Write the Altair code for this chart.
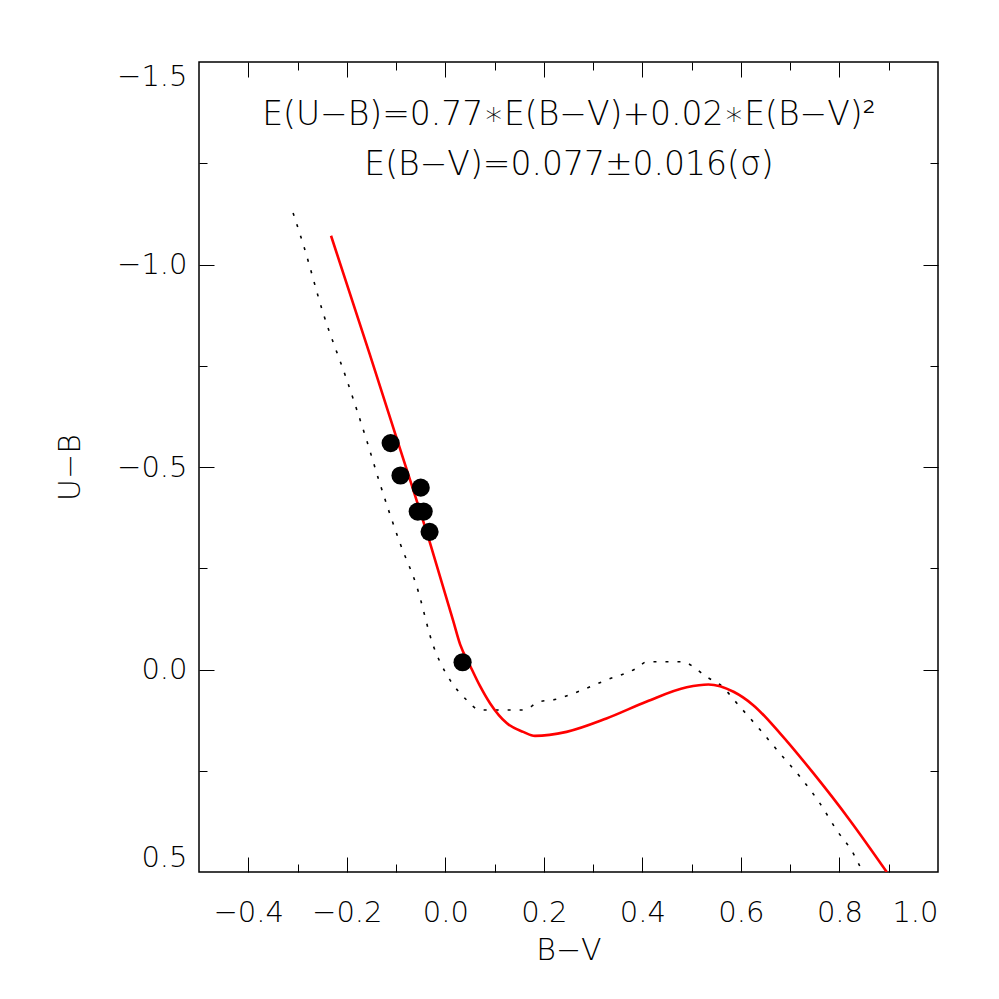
import altair as alt
import pandas as pd

# ---- data ----
star_bv = [-0.111, -0.091, -0.050, -0.056, -0.044, -0.032, 0.035]
star_ub = [-0.559, -0.479, -0.449, -0.390, -0.390, -0.340, -0.018]

red_bv = [-0.232, -0.153, -0.102, -0.031, 0.016, 0.030, 0.050, 0.070, 0.091, 0.125, 0.158,
          0.182, 0.246, 0.327, 0.409, 0.490, 0.534, 0.585, 0.625, 0.679, 0.747, 0.821, 0.896]
red_ub = [-1.071, -0.777, -0.583, -0.312, -0.120, -0.062, -0.010, 0.040, 0.084, 0.133, 0.154,
          0.164, 0.154, 0.121, 0.079, 0.044, 0.037, 0.055, 0.088, 0.157, 0.256, 0.372, 0.500]

dot_bv = [-0.309, -0.288, -0.248, -0.200, -0.160, -0.133, -0.092, -0.058, -0.024, -0.011,
          0.009, 0.043, 0.070, 0.158, 0.192, 0.219, 0.260, 0.327, 0.388, 0.409, 0.483,
          0.503, 0.530, 0.557, 0.598, 0.639, 0.679, 0.720, 0.760, 0.794, 0.828, 0.845]
dot_ub = [-1.127, -1.048, -0.880, -0.715, -0.567, -0.460, -0.312, -0.205, -0.057, -0.019,
          0.025, 0.075, 0.100, 0.100, 0.079, 0.075, 0.059, 0.026, -0.003, -0.019, -0.019,
          -0.007, 0.018, 0.037, 0.092, 0.149, 0.207, 0.265, 0.330, 0.396, 0.454, 0.495]

x_labels = [-0.4, -0.2, 0.0, 0.2, 0.4, 0.6, 0.8, 1.0]
x_major = [-0.4, -0.2, 0.0, 0.2, 0.4, 0.6, 0.8]
x_minor = [-0.3, -0.1, 0.1, 0.3, 0.5, 0.7, 0.9]
y_labels = [-1.5, -1.0, -0.5, 0.0, 0.5]
y_major = [-1.0, -0.5, 0.0]
y_minor = [-1.25, -0.75, -0.25, 0.25]

line1 = "E(U\u2212B)=0.77\u2217E(B\u2212V)+0.02\u2217E(B\u2212V)\u00b2"
line2 = "E(B\u2212V)=0.077\u00b10.016(\u03c3)"

FONT = "DejaVu Sans"
WEIGHT = 200
W, H = 739, 810
MAJ, MIN = 15, 8

stars = pd.DataFrame({"bv": star_bv, "ub": star_ub})
red = pd.DataFrame({"bv": red_bv, "ub": red_ub, "i": range(len(red_bv))})
dot = pd.DataFrame({"bv": dot_bv, "ub": dot_ub, "i": range(len(dot_bv))})

xs = alt.Scale(domain=[-0.5, 1.0], nice=False, zero=False)
ys = alt.Scale(domain=[-1.5, 0.5], nice=False, zero=False, reverse=True)


def axis_layer(xaxis, yaxis):
    return alt.Chart(stars).mark_point(opacity=0).encode(
        x=alt.X("bv:Q", scale=xs, axis=xaxis),
        y=alt.Y("ub:Q", scale=ys, axis=yaxis),
    )


def tick_axis(orient, values, size):
    return alt.Axis(orient=orient, values=values, labels=False, domain=False,
                    ticks=True, tickSize=size, offset=-size, title=None, grid=False,
                    tickColor="black", tickWidth=1)


labels_layer = axis_layer(
    alt.Axis(orient="bottom", values=x_labels, format=".1f", ticks=False, domain=False,
             grid=False, labelPadding=26, labelFontSize=29, labelFont=FONT,
             labelFontWeight=WEIGHT,
             labelColor="black", title="B\u2212V", titleFontSize=30, titleFont=FONT,
             titleFontWeight=WEIGHT, titleColor="black", titleY=78,
             titleBaseline="middle", titleAlign="center"),
    alt.Axis(orient="left", values=y_labels, format=".1f", ticks=False, domain=False,
             grid=False, labelPadding=12, labelFontSize=29, labelFont=FONT,
             labelFontWeight=WEIGHT,
             labelColor="black", labelFlush=True, title="U\u2212B", titleFontSize=30,
             titleFont=FONT, titleFontWeight=WEIGHT, titleColor="black",
             titleX=-129, titleY=H / 2, titleBaseline="middle", titleAlign="center",
             titleAngle=270),
)

layers = [
    labels_layer,
    axis_layer(tick_axis("bottom", x_major, MAJ), tick_axis("left", y_major, MAJ)),
    axis_layer(tick_axis("bottom", x_minor, MIN), tick_axis("left", y_minor, MIN)),
    axis_layer(tick_axis("top", x_major, MAJ), tick_axis("right", y_major, MAJ)),
    axis_layer(tick_axis("top", x_minor, MIN), tick_axis("right", y_minor, MIN)),
]

dotted = alt.Chart(dot).mark_line(color="black", strokeWidth=1.6, strokeDash=[3, 9],
                                   interpolate="monotone", clip=True).encode(
    x=alt.X("bv:Q", scale=xs, axis=None),
    y=alt.Y("ub:Q", scale=ys, axis=None),
    order="i:Q",
)

redline = alt.Chart(red).mark_line(color="red", strokeWidth=2.6,
                                   interpolate="monotone", clip=True).encode(
    x=alt.X("bv:Q", scale=xs, axis=None),
    y=alt.Y("ub:Q", scale=ys, axis=None),
    order="i:Q",
)

points = alt.Chart(stars).mark_circle(size=330, color="black", opacity=1).encode(
    x=alt.X("bv:Q", scale=xs, axis=None),
    y=alt.Y("ub:Q", scale=ys, axis=None),
)

text1 = alt.Chart(pd.DataFrame({"t": [line1]})).mark_text(
    font=FONT, fontSize=33, fontWeight=WEIGHT, color="black", align="center",
    baseline="middle").encode(text="t:N", x=alt.value(370), y=alt.value(53))
text2 = alt.Chart(pd.DataFrame({"t": [line2]})).mark_text(
    font=FONT, fontSize=33, fontWeight=WEIGHT, color="black", align="center",
    baseline="middle").encode(text="t:N", x=alt.value(370), y=alt.value(103))

chart = alt.layer(*layers, dotted, redline, points, text1, text2).resolve_axis(
    x="independent", y="independent"
).properties(
    width=W, height=H,
    padding={"left": 191, "top": 54, "right": 40, "bottom": 100},
    autosize=alt.AutoSizeParams(type="none"),
    background="white",
).configure(
    font=FONT,
    view=alt.ViewConfig(stroke="black", strokeWidth=1.5),
)

chart.save("out.html", embed_options={"renderer": "svg", "actions": False})
